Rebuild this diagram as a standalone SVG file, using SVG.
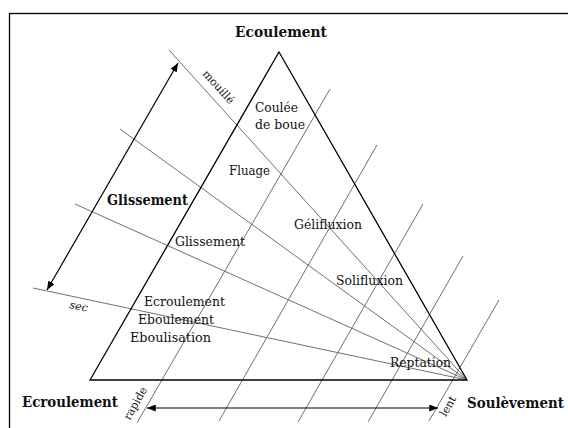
<svg xmlns="http://www.w3.org/2000/svg" width="568" height="428" viewBox="0 0 568 428">
<style>
text{font-family:"DejaVu Serif","Liberation Serif",serif;fill:#111}
.b{font-weight:bold;font-size:14px}
.r{font-size:12.5px}
.s{font-size:11px}
.g{stroke:#707070;stroke-width:1;fill:none}
.k{stroke:#000;stroke-width:1.3;fill:none}
.a{stroke:#000;stroke-width:1.2;fill:none;marker-start:url(#ah);marker-end:url(#ah)}
</style>
<defs>
<marker id="ah" viewBox="0 0 10 8" refX="10" refY="4" markerWidth="9" markerHeight="7" markerUnits="userSpaceOnUse" orient="auto-start-reverse">
<path d="M0,0 L10,4 L0,8 Z" fill="#000"/>
</marker>
</defs>
<rect x="9.5" y="13.5" width="580" height="430" fill="#fff" stroke="#000" stroke-width="1.3"/>
<g id="connectors">
<g id="fan">
<line class="g" x1="169" y1="50" x2="467" y2="380"/>
<line class="g" x1="120" y1="129" x2="467" y2="380"/>
<line class="g" x1="75" y1="204" x2="467" y2="380"/>
<line class="g" x1="33" y1="288" x2="467" y2="380"/>
</g>
<g id="parallels">
<line class="g" x1="137" y1="423" x2="330" y2="89"/>
<line class="g" x1="219" y1="421" x2="377" y2="145"/>
<line class="g" x1="298" y1="422" x2="423" y2="204"/>
<line class="g" x1="368" y1="422" x2="463" y2="256"/>
<line class="g" x1="429" y1="421" x2="499" y2="300"/>
</g>
<line class="a" x1="47" y1="290" x2="178" y2="63"/>
<line class="a" x1="147" y1="408" x2="438" y2="408"/>
</g>
<g id="triangle">
<path class="k" d="M279,52 L467,380 L90,380 Z"/>
</g>
<g id="axis-labels">
<text class="b" x="235" y="37" textLength="92" lengthAdjust="spacingAndGlyphs">Ecoulement</text>
<text class="b" x="107" y="205" textLength="81" lengthAdjust="spacingAndGlyphs">Glissement</text>
<text class="b" x="22" y="407" textLength="96" lengthAdjust="spacingAndGlyphs">Ecroulement</text>
<text class="b" x="467" y="408" textLength="97" lengthAdjust="spacingAndGlyphs">Soulèvement</text>
</g>
<g id="scale-labels">
<text class="s" text-anchor="middle" transform="translate(215.8,89.5) rotate(47.9)">mouillé</text>
<text class="s" font-style="italic" text-anchor="middle" transform="translate(78,310) rotate(12)">sec</text>
<text class="s" text-anchor="middle" transform="translate(138.6,405.2) rotate(-60.3)">rapide</text>
<text class="s" text-anchor="middle" transform="translate(451,408) rotate(-60.3)">lent</text>
</g>
<g id="regions">
<text class="r" x="255" y="112" textLength="43" lengthAdjust="spacingAndGlyphs">Coulée</text>
<text class="r" x="255" y="129" textLength="50" lengthAdjust="spacingAndGlyphs">de boue</text>
<text class="r" x="229" y="175" textLength="41" lengthAdjust="spacingAndGlyphs">Fluage</text>
<text class="r" x="294" y="229" textLength="68" lengthAdjust="spacingAndGlyphs">Gélifluxion</text>
<text class="r" x="175" y="246" textLength="70" lengthAdjust="spacingAndGlyphs">Glissement</text>
<text class="r" x="336" y="285" textLength="67" lengthAdjust="spacingAndGlyphs">Solifluxion</text>
<text class="r" x="144" y="306" textLength="81" lengthAdjust="spacingAndGlyphs">Ecroulement</text>
<text class="r" x="138" y="324" textLength="76" lengthAdjust="spacingAndGlyphs">Eboulement</text>
<text class="r" x="130" y="342" textLength="81" lengthAdjust="spacingAndGlyphs">Eboulisation</text>
<text class="r" x="390" y="367" textLength="61" lengthAdjust="spacingAndGlyphs">Reptation</text>
</g>
</svg>
